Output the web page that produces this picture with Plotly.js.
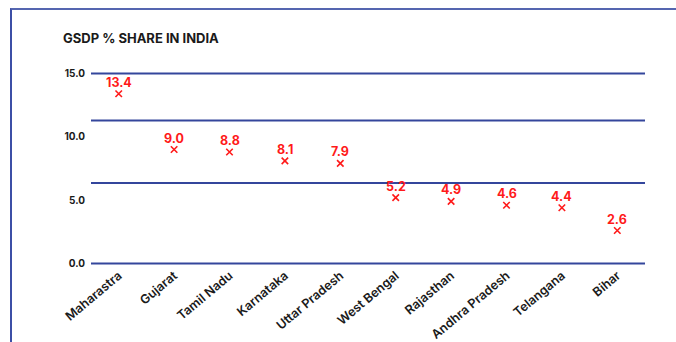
<!DOCTYPE html>
<html>
<head>
<meta charset="utf-8">
<script src="https://cdn.plot.ly/plotly-3.0.1.min.js"></script>
<style>
html,body{margin:0;padding:0;background:#fff;}
#wrap{position:relative;width:676px;height:342px;}
#chart{width:676px;height:342px;}
#frame{position:absolute;left:10px;top:8px;width:664px;height:340px;border-left:2px solid #3c4fa6;border-top:2px solid #5566b0;pointer-events:none;}
</style>
</head>
<body>
<div id="wrap"><div id="chart"></div><div id="frame"></div></div>
<script>
const states = ["Maharastra","Gujarat","Tamil Nadu","Karnataka","Uttar Pradesh","West Bengal","Rajasthan","Andhra Pradesh","Telangana","Bihar"];
const gsdpShare = [13.4, 9.0, 8.8, 8.1, 7.9, 5.2, 4.9, 4.6, 4.4, 2.6];
const yTicks = [0, 5, 10, 15];
const gridLevels = [0, 6.35, 11.3, 15];

const FONT = "Inter, 'Open Sans', sans-serif";
const RED = "#ff1a1a";

const trace = {
  x: states,
  y: gsdpShare,
  type: "scatter",
  mode: "markers",
  marker: {symbol: "x-thin-open", size: 6.5, color: RED, line: {width: 1.6, color: RED}},
  cliponaxis: false,
  hoverinfo: "skip"
};

const annotations = states.map((s, i) => ({
  x: s, y: gsdpShare[i], xref: "x", yref: "y",
  text: gsdpShare[i].toFixed(1),
  showarrow: false,
  yshift: 11.5,
  font: {family: FONT, size: 12.5, color: RED, weight: 700}
}));

const shapes = gridLevels.map(v => ({
  type: "line", xref: "paper", yref: "y",
  x0: 0, x1: 1, y0: v, y1: v,
  line: {color: "#34469c", width: 2},
  layer: "below"
}));

const layout = {
  width: 676, height: 342,
  margin: {l: 91, r: 31, t: 71.5, b: 76.5},
  paper_bgcolor: "#ffffff",
  plot_bgcolor: "#ffffff",
  showlegend: false,
  title: {
    text: "<b>GSDP % SHARE IN INDIA</b>",
    font: {family: FONT, size: 13, color: "#1a1a1a"},
    xref: "container", yref: "container",
    x: 63/676, xanchor: "left",
    y: 1 - 38/342, yanchor: "middle"
  },
  xaxis: {
    type: "category",
    range: [-0.5, 9.5],
    tickangle: -40,
    showgrid: false, zeroline: false, showline: false,
    ticks: "",
    tickfont: {family: FONT, size: 12.5, color: "#1a1a1a", weight: 600}
  },
  yaxis: {
    range: [-0.12, 15.12],
    tickvals: yTicks,
    ticktext: yTicks.map(v => v.toFixed(1)),
    showgrid: false, zeroline: false, showline: false,
    ticks: "",
    ticklabelstandoff: 5,
    tickfont: {family: FONT, size: 10, color: "#1a1a1a", weight: 700}
  },
  shapes: shapes,
  annotations: annotations
};

Plotly.newPlot("chart", [trace], layout, {displayModeBar: false, staticPlot: true});
</script>
</body>
</html>
